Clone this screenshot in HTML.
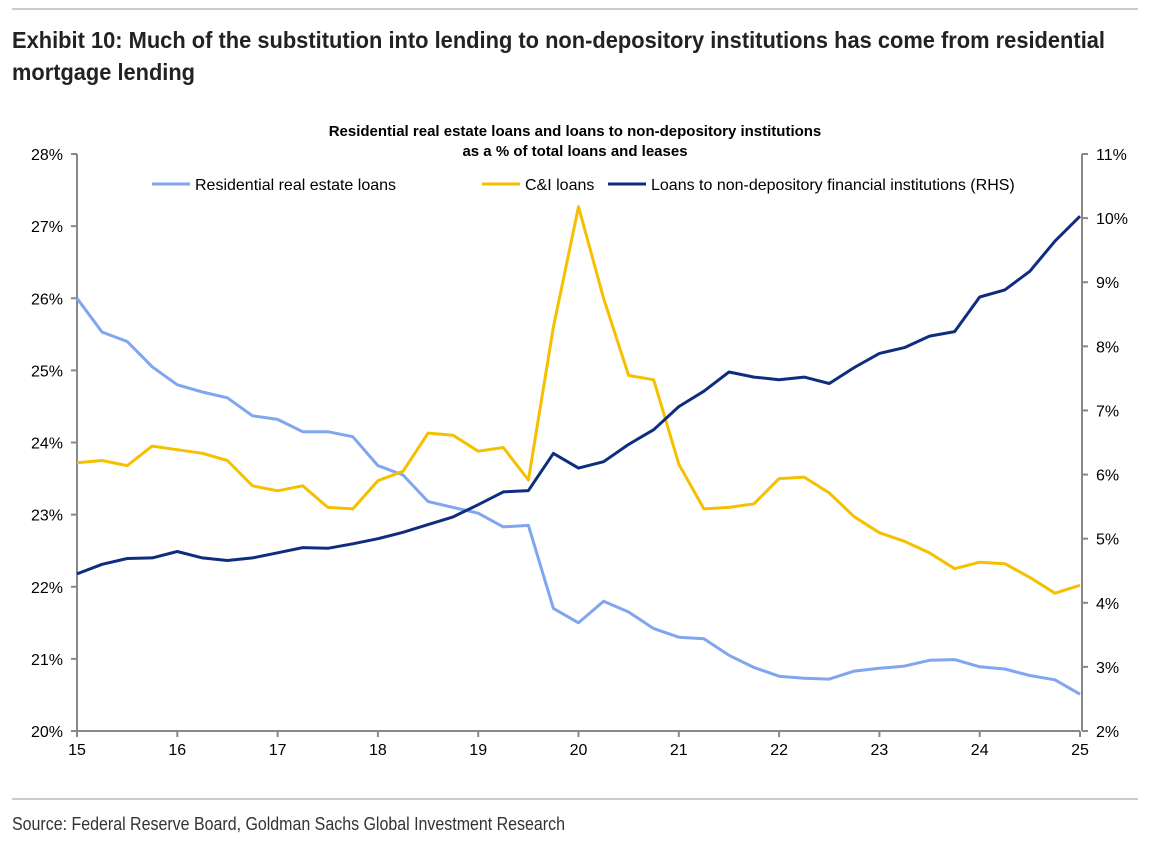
<!DOCTYPE html>
<html><head><meta charset="utf-8"><style>
body{margin:0;background:#fff;width:1149px;height:842px;overflow:hidden}
svg{display:block}
text{font-family:"Liberation Sans",Arial,sans-serif}
</style></head><body>
<svg id="c" width="1149" height="842">
<line x1="12" y1="9" x2="1138" y2="9" stroke="#999" stroke-width="1"/>
<text x="12" y="48" font-size="23" font-weight="bold" fill="#222" textLength="1093" lengthAdjust="spacingAndGlyphs">Exhibit 10: Much of the substitution into lending to non-depository institutions has come from residential</text>
<text x="12" y="80" font-size="23" font-weight="bold" fill="#222" textLength="183" lengthAdjust="spacingAndGlyphs">mortgage lending</text>
<text x="575" y="136" font-size="15" font-weight="bold" text-anchor="middle" fill="#000">Residential real estate loans and loans to non-depository institutions</text>
<text x="575" y="156" font-size="15" font-weight="bold" text-anchor="middle" fill="#000">as a % of total loans and leases</text>
<g>
<line x1="152" y1="184" x2="190" y2="184" stroke="#7fa6ee" stroke-width="3"/>
<text x="195" y="190" font-size="16">Residential real estate loans</text>
<line x1="482" y1="184" x2="520" y2="184" stroke="#f5c000" stroke-width="3"/>
<text x="525" y="190" font-size="16">C&amp;I loans</text>
<line x1="608" y1="184" x2="646" y2="184" stroke="#0f2d80" stroke-width="3"/>
<text x="651" y="190" font-size="16">Loans to non-depository financial institutions (RHS)</text>
</g>
<g id="axes"></g>
<g id="series"></g>
<line x1="12" y1="799" x2="1138" y2="799" stroke="#999" stroke-width="1"/>
<text x="12" y="830" font-size="18" fill="#333" textLength="553" lengthAdjust="spacingAndGlyphs">Source: Federal Reserve Board, Goldman Sachs Global Investment Research</text>
</svg>
<script>
const xTicks=["15","16","17","18","19","20","21","22","23","24","25"];
const leftTicks=[20,21,22,23,24,25,26,27,28];
const rightTicks=[2,3,4,5,6,7,8,9,10,11];
const residential=[26.0,25.53,25.4,25.05,24.8,24.7,24.62,24.37,24.32,24.15,24.15,24.08,23.68,23.55,23.18,23.1,23.02,22.83,22.85,21.7,21.5,21.8,21.65,21.42,21.3,21.28,21.05,20.88,20.76,20.73,20.72,20.83,20.87,20.9,20.98,20.99,20.89,20.86,20.77,20.71,20.51];
const ciLoans=[23.72,23.75,23.68,23.95,23.9,23.85,23.75,23.4,23.33,23.4,23.1,23.08,23.47,23.6,24.13,24.1,23.88,23.93,23.48,25.6,27.27,26.0,24.93,24.87,23.7,23.08,23.1,23.15,23.5,23.52,23.3,22.97,22.75,22.63,22.47,22.25,22.34,22.32,22.13,21.91,22.02];
const nonDep=[4.45,4.6,4.69,4.7,4.8,4.7,4.66,4.7,4.78,4.86,4.85,4.92,5.0,5.1,5.22,5.34,5.53,5.73,5.75,6.33,6.1,6.2,6.47,6.7,7.06,7.3,7.6,7.52,7.48,7.52,7.42,7.67,7.89,7.98,8.16,8.23,8.77,8.88,9.17,9.64,10.03];
const X0=77,X1=1080,YT=154,YB=731;
const xs=i=>X0+(X1-X0)*i/(residential.length-1);
const xYear=i=>X0+(X1-X0)*i/(xTicks.length-1);
const yL=v=>YB-(v-20)/8*(YB-YT);
const yR=v=>YB-(v-2)/9*(YB-YT);
const NS="http://www.w3.org/2000/svg";
const ax=document.getElementById('axes'),se=document.getElementById('series');
function mk(tag,at,p){const e=document.createElementNS(NS,tag);for(const k in at)e.setAttribute(k,at[k]);p.appendChild(e);return e;}
let e;
e=mk('path',{d:`M${X0} ${YT}V${YB}H${X1}`,stroke:'#888',fill:'none','stroke-width':2},ax);


e=mk('line',{x1:X1+2,y1:YT,x2:X1+2,y2:YB,stroke:'#888','stroke-width':2},ax);


leftTicks.forEach(v=>{const y=yL(v);
 mk('line',{x1:X0-6,y1:y,x2:X0,y2:y,stroke:'#888','stroke-width':2},ax);
 e=mk('text',{x:X0-14,y:y+6,'font-size':16,'text-anchor':'end'},ax);e.textContent=v+'%';
 
 });
rightTicks.forEach(v=>{const y=yR(v);
 mk('line',{x1:X1+2,y1:y,x2:X1+8,y2:y,stroke:'#888','stroke-width':2},ax);
 e=mk('text',{x:X1+16,y:y+6,'font-size':16},ax);e.textContent=v+'%';
 
 });
xTicks.forEach((t,i)=>{const x=xYear(i);
 mk('line',{x1:x,y1:YB,x2:x,y2:YB+6,stroke:'#888','stroke-width':2},ax);
 e=mk('text',{x:x,y:YB+24,'font-size':16,'text-anchor':'middle'},ax);e.textContent=t;
 
 });
function line(arr,f,col,name){const d=arr.map((v,i)=>(i?'L':'M')+xs(i).toFixed(1)+' '+f(v).toFixed(1)).join('');
 const p=mk('path',{d:d,stroke:col,'stroke-width':3,fill:'none','stroke-linejoin':'round'},se);
 
 }
line(residential,yL,'#7fa6ee','residential-line');
line(ciLoans,yL,'#f5c000','ci-loans-line');
line(nonDep,yR,'#0f2d80','non-depository-line');
</script>
</body></html>
